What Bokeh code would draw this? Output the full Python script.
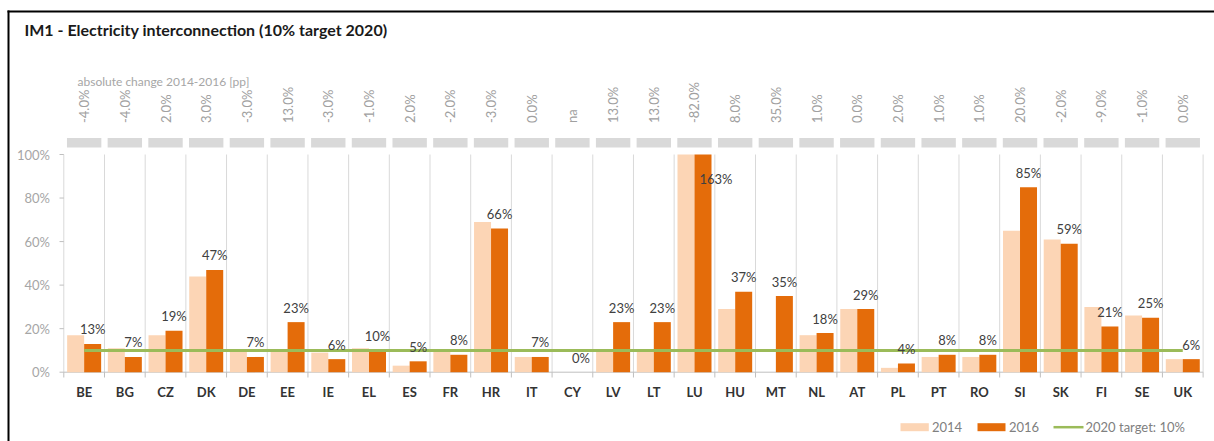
import numpy as np
from bokeh.plotting import figure
from bokeh.models import Range1d
from bokeh.core.properties import value
from bokeh.embed import file_html
from bokeh.resources import INLINE

# ---------------- data ----------------
categories = ["BE", "BG", "CZ", "DK", "DE", "EE", "IE", "EL", "ES", "FR", "HR", "IT", "CY", "LV",
              "LT", "LU", "HU", "MT", "NL", "AT", "PL", "PT", "RO", "SI", "SK", "FI", "SE", "UK"]
share_2014 = [0.17, 0.11, 0.17, 0.44, 0.10, 0.10, 0.09, 0.11, 0.03, 0.10, 0.69, 0.07, np.nan, 0.10,
              0.10, 2.45, 0.29, 0.00, 0.17, 0.29, 0.02, 0.07, 0.07, 0.65, 0.61, 0.30, 0.26, 0.06]
share_2016 = [0.13, 0.07, 0.19, 0.47, 0.07, 0.23, 0.06, 0.10, 0.05, 0.08, 0.66, 0.07, 0.00, 0.23,
              0.23, 1.63, 0.37, 0.35, 0.18, 0.29, 0.04, 0.08, 0.08, 0.85, 0.59, 0.21, 0.25, 0.06]
change_labels = ["-4.0%", "-4.0%", "2.0%", "3.0%", "-3.0%", "13.0%", "-3.0%", "-1.0%", "2.0%",
                 "-2.0%", "-3.0%", "0.0%", "na", "13.0%", "13.0%", "-82.0%", "8.0%", "35.0%",
                 "1.0%", "0.0%", "2.0%", "1.0%", "1.0%", "20.0%", "-2.0%", "-9.0%", "-1.0%", "0.0%"]
target_2020 = 0.10
y_ticks = [0.0, 0.2, 0.4, 0.6, 0.8, 1.0]
y_tick_labels = ["0%", "20%", "40%", "60%", "80%", "100%"]
y_axis_max = 1.0
legend_labels = ["2014", "2016", "2020 target: 10%"]
title_text = "IM1 - Electricity interconnection (10% target 2020)"
header_text = "absolute change 2014-2016 [pp]"

# ---------------- geometry (page pixels) ----------------
W, H = 1214, 441
PX0, PY0 = 0, 0
X_LEFT, CW = 63.3, 40.69
Y0, YS = 371.7, 217.7


def px(xp):
    return (xp - X_LEFT) / CW


def py(yp):
    return (Y0 - yp) / YS


FONT = value("Lato")
LIGHT = "#FCD5B5"
DARK = "#E46C0A"
GREEN = "#9BBB59"
GRID = "#D9D9D9"

p = figure(width=W, height=H, output_backend="svg", toolbar_location=None,
           x_range=Range1d(px(PX0), px(PX0 + W)), y_range=Range1d(py(PY0 + H), py(PY0)),
           x_axis_location=None, y_axis_location=None, min_border=0,
           outline_line_color=None, background_fill_color="white", border_fill_color="white")
p.grid.visible = False

n = len(categories)
centers = np.arange(n) + 0.5
bounds = np.arange(n + 1)
half = 17 / CW / 2

# frame border
p.segment(x0=[px(8), px(7)], y0=[py(445), py(11)], x1=[px(8), px(1220)], y1=[py(10), py(11)],
          line_color="black", line_width=2)

# title and header text
p.text(x=[px(24)], y=[py(29)], text=[title_text], text_font=FONT, text_font_size=value("16px"),
       text_font_style="bold", text_color="#1a1a1a", text_align="left", text_baseline="middle")
p.text(x=[px(77)], y=[py(81)], text=[header_text], text_font=FONT, text_font_size=value("12px"),
       text_color="#A6A6A6", text_align="left", text_baseline="middle")

# change labels (rotated) and header boxes
p.text(x=centers, y=py(122.5), text=change_labels, angle=np.pi / 2, text_font=FONT,
       text_font_size=value("13px"), text_color="#A0A0A0", text_align="left", text_baseline="middle")
p.vbar(x=centers, width=0.845, bottom=py(147), top=py(137.5), fill_color=GRID, line_color=None)

# vertical grid lines
p.segment(x0=bounds, y0=0, x1=bounds, y1=y_axis_max, line_color=GRID, line_width=1)

# y axis ticks and labels
p.segment(x0=px(59), y0=y_ticks, x1=0, y1=y_ticks, line_color="#BFBFBF", line_width=1)
p.text(x=px(49.5), y=y_ticks, text=y_tick_labels, text_font=FONT, text_font_size=value("13px"),
       text_color="#A6A6A6", text_align="right", text_baseline="middle")

# x axis
p.segment(x0=[0], y0=[0], x1=[n], y1=[0], line_color="#BFBFBF", line_width=1)
p.segment(x0=bounds, y0=0, x1=bounds, y1=py(377), line_color="#BFBFBF", line_width=1)
p.text(x=centers, y=py(391), text=categories, text_font=FONT, text_font_size=value("13px"),
       text_font_style="bold", text_color="#333333", text_align="center", text_baseline="middle")

# bars (clipped to the axis maximum)
v14 = np.minimum(np.array(share_2014, dtype=float), y_axis_max)
v16 = np.minimum(np.array(share_2016, dtype=float), y_axis_max)
r14 = p.vbar(x=centers - half, width=2 * half, top=v14, bottom=0, fill_color=LIGHT, line_color=None)
r16 = p.vbar(x=centers + half, width=2 * half, top=v16, bottom=0, fill_color=DARK, line_color=None)

# target line
p.segment(x0=[centers[0]], y0=[target_2020], x1=[centers[-1]], y1=[target_2020],
          line_color=GREEN, line_width=3)

# data labels for 2016
vals = np.array(share_2016, dtype=float)
labels = [f"{round(v * 100)}%" for v in vals]
inside = vals <= y_axis_max
p.text(x=(centers + half)[inside], y=vals[inside], text=[l for l, k in zip(labels, inside) if k],
       y_offset=-14.5, text_font=FONT, text_font_size=value("13px"), text_color="#404040",
       text_align="center", text_baseline="middle")
p.text(x=(centers + half)[~inside], y=v16[~inside], text=[l for l, k in zip(labels, inside) if not k],
       x_offset=13, y_offset=24, text_font=FONT, text_font_size=value("13px"), text_color="#404040",
       text_align="center", text_baseline="middle")

# legend
ly = py(426.7)
p.quad(left=[px(900), px(977)], right=[px(928.3), px(1005)], bottom=py(430.7), top=py(422.7),
       fill_color=[LIGHT, DARK], line_color=None)
p.segment(x0=[px(1053)], y0=[ly], x1=[px(1083)], y1=[ly], line_color=GREEN, line_width=2.5)
p.text(x=[px(931.5), px(1008.5), px(1085)], y=ly, text=legend_labels, text_font=FONT,
       text_font_size=value("13px"), text_color="#808080", text_align="left", text_baseline="middle")

open("out.html", "w").write(file_html(p, INLINE))
